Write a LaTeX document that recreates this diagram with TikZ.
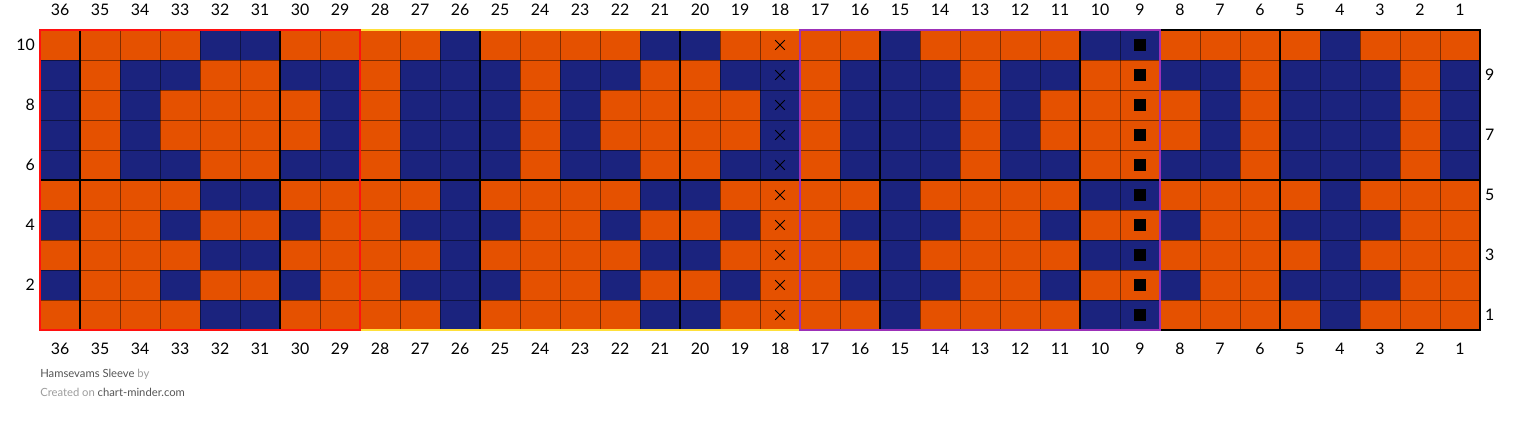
\documentclass[tikz,border=0pt]{standalone}
\usepackage{fontspec}
\setmainfont{Lato}
\usepackage{tikz}
\usetikzlibrary{calc,positioning}
\definecolor{yarnorange}{HTML}{E55100}
\definecolor{yarnblue}{HTML}{1B237E}
\definecolor{inkmid}{HTML}{555555}
\definecolor{inkfaint}{HTML}{9C9C9C}
\definecolor{boxred}{HTML}{FF1010}
\definecolor{boxyellow}{HTML}{FFE03A}
\definecolor{boxpurple}{HTML}{9C30B8}

\begin{document}
\begin{tikzpicture}[
  x=1cm, y=0.75cm,
  every node/.style={font=\fontsize{11.3}{13}\selectfont, inner sep=0pt},
  thingrid/.style={draw=black, opacity=0.45, line width=0.6pt},
  thickgrid/.style={draw=black, line width=1.4pt},
  repeatbox/.style={line width=1.7pt},
  crossmark/.style={draw=black, line width=0.55pt},
  footer/.style={font=\fontsize{8}{9}\selectfont, anchor=base west}
]
\useasboundingbox (-1,-3.1) rectangle (37,11);

% background colour, then the blue stitches (row / columns)
\fill[yarnorange] (0,0) rectangle (36,10);
\foreach \r/\cols in {
  1/{32,31,26,21,20,15,10,9,4},
  2/{36,33,30,27,26,25,22,19,16,15,14,11,8,5,4,3},
  3/{32,31,26,21,20,15,10,9,4},
  4/{36,33,30,27,26,25,22,19,16,15,14,11,8,5,4,3},
  5/{32,31,26,21,20,15,10,9,4},
  6/{36,34,33,30,29,27,26,25,23,22,19,18,16,15,14,12,11,8,7,5,4,3,1},
  7/{36,34,29,27,26,25,23,18,16,15,14,12,7,5,4,3,1},
  8/{36,34,29,27,26,25,23,18,16,15,14,12,7,5,4,3,1},
  9/{36,34,33,30,29,27,26,25,23,22,19,18,16,15,14,12,11,8,7,5,4,3,1},
  10/{32,31,26,21,20,15,10,9,4}}
  \foreach \c in \cols
    \fill[yarnblue] ({36-\c},{\r-1}) rectangle ++(1,1);

% grid
\foreach \i in {1,...,35} \draw[thingrid] (\i,0) -- (\i,10);
\foreach \j in {1,...,9} \draw[thingrid] (0,\j) -- (36,\j);
\foreach \i in {1,6,...,31} \draw[thickgrid] (\i,0) -- (\i,10);
\draw[thickgrid] (0,5) -- (36,5);
\draw[line width=2pt] (0,0) rectangle (36,10);

% symbols in columns 18 and 9
\foreach \r in {1,...,10} {
  \coordinate (sx\r) at (18.5,{\r-0.5});
  \draw[crossmark] ($(sx\r)+(-0.12,-0.16)$) -- ($(sx\r)+(0.12,0.16)$);
  \draw[crossmark] ($(sx\r)+(-0.12,0.16)$) -- ($(sx\r)+(0.12,-0.16)$);
  \coordinate (sq\r) at (27.5,{\r-0.5});
  \fill[black] ($(sq\r)+(-0.16,-0.215)$) rectangle ($(sq\r)+(0.16,0.215)$);
}

% repeat boxes
\draw[repeatbox, boxyellow] (8,0) rectangle (19,10);
\draw[repeatbox, boxred] (0,0) rectangle (8,10);
\draw[repeatbox, boxpurple] (19,0) rectangle (28,10);

% numbering
\foreach \n in {1,...,36} {
  \node (top\n) at ({36.5-\n},10.67) {\n};
  \node (bot\n) at ({36.5-\n},-0.62) {\n};
}
\foreach \r in {2,4,...,10}
  \node[anchor=east] (left\r) at (-0.12,{\r-0.5}) {\r};
\foreach \r in {1,3,...,9}
  \node[anchor=west] (right\r) at (36.12,{\r-0.5}) {\r};

% credits
\node[footer] (title) at (0,-1.6) {\textcolor{inkmid}{Hamsevams Sleeve} \textcolor{inkfaint}{by}};
\node[footer, below=0.47cm of title.base west, anchor=base west] (credit) {\textcolor{inkfaint}{Created on} \textcolor{inkmid}{chart-minder.com}};
\end{tikzpicture}
\end{document}
